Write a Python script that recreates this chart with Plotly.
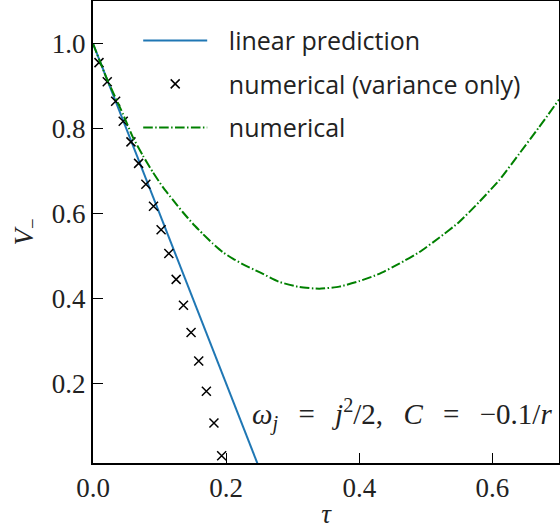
import plotly.graph_objects as go

# Linear prediction: V = 1 - 4*tau
lin_tau = [0.0, 0.25]
lin_v = [1.0, 0.0]

# numerical (variance only) markers
var_tau = [0.009, 0.0214, 0.034, 0.0454, 0.057, 0.0685, 0.0794, 0.0909, 0.1023,
           0.1139, 0.1249, 0.1359, 0.1473, 0.1588, 0.1703, 0.1817, 0.1933]
var_v = [0.955, 0.910, 0.864, 0.817, 0.7685, 0.718, 0.669, 0.617, 0.562,
         0.506, 0.445, 0.384, 0.320, 0.253, 0.182, 0.107, 0.030]

# numerical (full)
num_tau = [0.0, 0.02, 0.045, 0.06, 0.075, 0.09, 0.105, 0.12, 0.135, 0.15, 0.165,
           0.18, 0.195, 0.21, 0.2247, 0.25, 0.28, 0.31, 0.34, 0.37, 0.40, 0.43,
           0.46, 0.49, 0.52, 0.55, 0.58, 0.61, 0.64, 0.67, 0.70]
num_v = [1.0, 0.920, 0.834, 0.779, 0.736, 0.697, 0.662, 0.632, 0.603, 0.576, 0.552,
         0.529, 0.509, 0.494, 0.481, 0.462, 0.439, 0.427, 0.423, 0.428, 0.441, 0.458,
         0.482, 0.509, 0.543, 0.580, 0.627, 0.678, 0.740, 0.803, 0.868]

x_ticks = [0.0, 0.2, 0.4, 0.6]
y_ticks = [0.2, 0.4, 0.6, 0.8, 1.0]

SP = "\u2002\u2009"
GAP = "\u2002\u2009"

fig = go.Figure()
fig.add_trace(go.Scatter(x=lin_tau, y=lin_v, mode="lines", name=SP + "linear prediction",
                         legendgroup="a", line=dict(color="#1f77b4", width=2)))
fig.add_trace(go.Scatter(x=var_tau, y=var_v, mode="markers", name=SP + "numerical (variance only)",
                         legendgroup="b",
                         marker=dict(symbol="x-thin", size=9, color="black",
                                     line=dict(color="black", width=1.5))))
fig.add_trace(go.Scatter(x=num_tau, y=num_v, mode="lines", name=SP + "numerical",
                         legendgroup="c",
                         line=dict(color="#008000", width=2, shape="spline", smoothing=0.5,
                                   dash="9.6px,2.4px,1.5px,2.4px")))

serif = "Liberation Serif"
axis_common = dict(showline=True, linewidth=2, linecolor="black", mirror=True,
                   ticks="inside", ticklen=10, tickwidth=1, tickcolor="black",
                   showgrid=False, zeroline=False, automargin=False,
                   tickfont=dict(family=serif, size=27, color="#222"))

fig.update_layout(
    width=560, height=529,
    margin=dict(l=93, r=1, t=1, b=66),
    plot_bgcolor="white", paper_bgcolor="white",
    xaxis=dict(range=[0, 0.7], tickvals=x_ticks, ticktext=[f"{v:.1f}" for v in x_ticks],
               title=dict(text="<i>τ</i>", font=dict(family=serif, size=27, color="#222"), standoff=2),
               **axis_common),
    yaxis=dict(range=[0.013, 1.1], tickvals=y_ticks, ticktext=[f"{v:.1f}" for v in y_ticks],
               title=dict(text="<i>V</i><sub>−</sub>", font=dict(family=serif, size=27, color="#222"), standoff=10),
               **axis_common),
    legend=dict(x=0.097, y=0.964, xanchor="left", yanchor="top",
                font=dict(family="Open Sans", size=25, color="#222"),
                bgcolor="rgba(0,0,0,0)", tracegroupgap=8, itemwidth=64),
    showlegend=True,
)

fig.add_annotation(x=0.337, y=0.105, xref="paper", yref="paper", xanchor="left", yanchor="middle",
                   text=("<i>ω<sub>j</sub></i>" + GAP + "=" + GAP + "<i>j</i><sup>2</sup>/2," + GAP
                         + "<i>C</i>" + GAP + "=" + GAP + "−0.1/<i>r</i>"),
                   showarrow=False, font=dict(family=serif, size=29, color="#222"))

fig.write_html("out.html", config={"displayModeBar": False},
               post_script="document.body.style.margin='0';document.body.style.overflow='hidden';")
